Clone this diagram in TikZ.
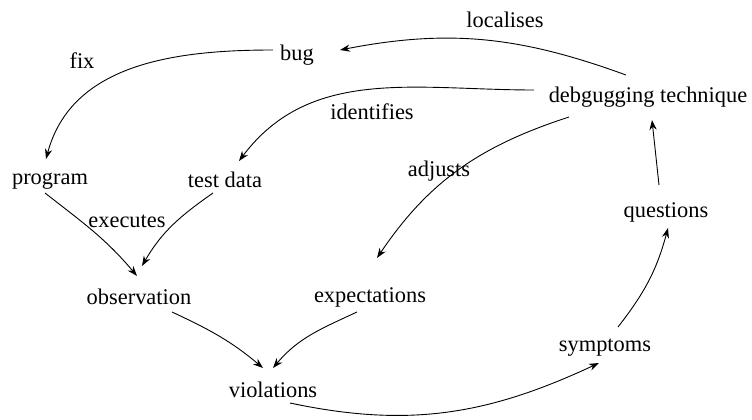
\documentclass[tikz,border=0pt]{standalone}
\usepackage{fontspec}
\setmainfont{Liberation Serif}
\usetikzlibrary{arrows.meta}
\tikzset{
  concept/.style = {inner sep=1pt, font=\fontsize{11.2}{13}\selectfont},% concept node
  relation/.style = {concept}% label on a link
}
\begin{document}
\begin{tikzpicture}[->,>={Stealth[length=5pt,width=3.6pt,inset=1.6pt]},x=0.5pt,y=0.5pt,line width=0.45pt]
\useasboundingbox (0,0) rectangle (752,419);
\node [concept] (bug)   at (297,364) {bug};
\node [concept] (dbg)   at (648,322) {debgugging technique};
\node [concept] (prog)  at (50,238)  {program};
\node [concept] (test)  at (225,239) {test data};
\node [concept] (quest) at (666,207) {questions};
\node [concept] (obs)   at (139,122) {observation};
\node [concept] (exp)   at (370,122) {expectations};
\node [concept] (viol)  at (273,29)  {violations};
\node [concept] (symp)  at (605,71)  {symptoms};

\node [relation] (loc)   at (505,399) {localises};
\node [relation] (fixl)  at (82,358)  {fix};
\node [relation] (ident) at (372,307) {identifies};
\node [relation] (adj)   at (439,248) {adjusts};
\node [relation] (exec)  at (127,198) {executes};

\draw ([shift={(-22,22)}]dbg.center) to[out=160,in=11] ([shift={(43,5)}]bug.center);
\draw ([shift={(-24,5)}]bug.center) to[out=180,in=75] ([shift={(-4,22)}]prog.center);
\draw ([shift={(-114,7)}]dbg.center) to[out=180,in=53] ([shift={(14,19)}]test.center);
\draw ([shift={(-79,-20)}]dbg.center) to[out=198,in=56] ([shift={(7,39)}]exp.center);
\draw ([shift={(-5,-12)}]prog.center) to[out=-38,in=130] ([shift={(-2,21)}]obs.center);
\draw ([shift={(-12,-13)}]test.center) to[out=-145,in=60] ([shift={(3,31)}]obs.center);
\draw ([shift={(33,-15)}]obs.center) to[out=-25,in=140] ([shift={(-10,22)}]viol.center);
\draw ([shift={(-13,-15)}]exp.center) to[out=-155,in=50] ([shift={(0,22)}]viol.center);
\draw ([shift={(17,-13)}]viol.center) to[out=-12,in=205] ([shift={(-6,-15)}]symp.center);
\draw ([shift={(13,21)}]symp.center) to[out=52,in=255] ([shift={(2,-16)}]quest.center);
\draw ([shift={(-7,27)}]quest.center) -- ([shift={(4,-23)}]dbg.center);
\end{tikzpicture}
\end{document}
